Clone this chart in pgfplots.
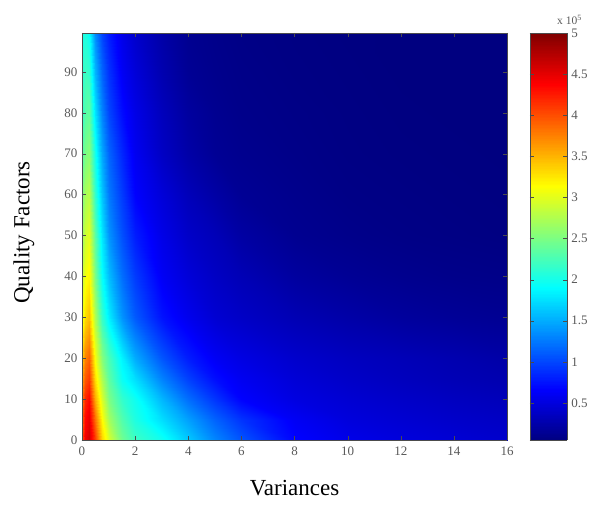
\documentclass[border=0pt]{standalone}
\usepackage{pgfplots}
\pgfplotsset{compat=1.18}
\usepackage{fontspec}
\setmainfont{Liberation Serif}
\begin{document}
\begin{tikzpicture}
\path[use as bounding box] (0,0) rectangle (593pt,505pt);
\begin{axis}[
  at={(82pt,65pt)}, anchor=south west,
  scale only axis, width=425pt, height=407pt,
  view={0}{90},
  xmin=0, xmax=16, ymin=0, ymax=99.5,
  xtick={0,2,...,16}, ytick={0,10,...,90},
  /pgf/number format/assume math mode=true,
  tick label style={font=\fontsize{13}{15}\selectfont, text=black!65},
  xticklabel style={yshift=-3.5pt},
  yticklabel style={xshift=-1pt},
  major tick length=4pt,
  tick style={black!70},
  axis line style={black!70, line width=0.6pt},
  xlabel={Variances}, ylabel={Quality Factors},
  label style={font=\fontsize{23}{26}\selectfont},
  xlabel style={at={(axis description cs:0.5,-0.118)}, anchor=center},
  ylabel style={at={(axis description cs:-0.137,0.51)}, anchor=center},
  colormap/jet,
  point meta min=0.05, point meta max=5,
  colorbar sampled,
  colorbar shift/.style={xshift=13pt},
  colorbar style={
    width=37pt,
    samples=300,
    ytick={0.5,1,...,5},
    /pgf/number format/assume math mode=true,
    yticklabel style={font=\fontsize{13}{15}\selectfont, text=black!65, xshift=1pt},
    ytick pos=both, yticklabel pos=right,
    major tick length=4pt,
    tick style={black!70},
    axis line style={black!70, line width=0.6pt},
  },
]
\addplot3[surf, shader=interp, mesh/rows=13, mesh/cols=17] coordinates {
(0,0,4.0) (0.1,0,4.45) (0.25,0,4.6) (0.5,0,4.1) (0.75,0,3.35) (1,0,2.95) (1.5,0,2.45) (2,0,2.2) (3,0,1.98) (4,0,1.65) (5,0,1.32) (6,0,1.08) (8,0,0.68) (10,0,0.56) (12,0,0.5) (14,0,0.46) (16,0,0.42)
(0,5,3.9) (0.1,5,4.35) (0.25,5,4.5) (0.5,5,3.85) (0.75,5,3.15) (1,5,2.7) (1.5,5,2.3) (2,5,2.05) (3,5,1.75) (4,5,1.45) (5,5,1.15) (6,5,0.92) (8,5,0.62) (10,5,0.5) (12,5,0.45) (14,5,0.41) (16,5,0.38)
(0,10,3.8) (0.1,10,4.2) (0.25,10,4.35) (0.5,10,3.55) (0.75,10,2.95) (1,10,2.5) (1.5,10,2.15) (2,10,1.97) (3,10,1.55) (4,10,1.2) (5,10,0.92) (6,10,0.67) (8,10,0.52) (10,10,0.45) (12,10,0.4) (14,10,0.36) (16,10,0.33)
(0,15,3.6) (0.1,15,3.95) (0.25,15,4.1) (0.5,15,3.3) (0.75,15,2.75) (1,15,2.35) (1.5,15,1.95) (2,15,1.75) (3,15,1.3) (4,15,0.98) (5,15,0.73) (6,15,0.6) (8,15,0.47) (10,15,0.4) (12,15,0.35) (14,15,0.31) (16,15,0.28)
(0,20,3.4) (0.1,20,3.75) (0.25,20,3.9) (0.5,20,3.1) (0.75,20,2.55) (1,20,2.25) (1.5,20,1.85) (2,20,1.5) (3,20,1.08) (4,20,0.8) (5,20,0.62) (6,20,0.53) (8,20,0.42) (10,20,0.36) (12,20,0.32) (14,20,0.28) (16,20,0.24)
(0,30,3.0) (0.1,30,3.3) (0.25,30,3.45) (0.5,30,2.75) (0.75,30,2.15) (1,30,1.82) (1.5,30,1.38) (2,30,1.1) (3,30,0.75) (4,30,0.58) (5,30,0.45) (6,30,0.39) (8,30,0.3) (10,30,0.24) (12,30,0.19) (14,30,0.16) (16,30,0.14)
(0,40,2.85) (0.1,40,3.08) (0.25,40,3.18) (0.5,40,2.5) (0.75,40,1.92) (1,40,1.58) (1.5,40,1.2) (2,40,0.95) (3,40,0.62) (4,40,0.48) (5,40,0.38) (6,40,0.31) (8,40,0.2) (10,40,0.15) (12,40,0.12) (14,40,0.1) (16,40,0.09)
(0,50,2.65) (0.1,50,2.9) (0.25,50,3.0) (0.5,50,2.35) (0.75,50,1.78) (1,50,1.38) (1.5,50,1.05) (2,50,0.8) (3,50,0.55) (4,50,0.4) (5,50,0.32) (6,50,0.22) (8,50,0.13) (10,50,0.1) (12,50,0.08) (14,50,0.07) (16,50,0.06)
(0,60,2.5) (0.1,60,2.72) (0.25,60,2.8) (0.5,60,2.15) (0.75,60,1.62) (1,60,1.25) (1.5,60,0.95) (2,60,0.67) (3,60,0.48) (4,60,0.33) (5,60,0.23) (6,60,0.15) (8,60,0.11) (10,60,0.08) (12,60,0.07) (14,60,0.06) (16,60,0.055)
(0,70,2.3) (0.1,70,2.5) (0.25,70,2.58) (0.5,70,2.0) (0.75,70,1.48) (1,70,1.15) (1.5,70,0.85) (2,70,0.6) (3,70,0.38) (4,70,0.24) (5,70,0.15) (6,70,0.12) (8,70,0.09) (10,70,0.07) (12,70,0.06) (14,70,0.055) (16,70,0.05)
(0,80,2.15) (0.1,80,2.32) (0.25,80,2.38) (0.5,80,1.78) (0.75,80,1.3) (1,80,1.0) (1.5,80,0.72) (2,80,0.55) (3,80,0.34) (4,80,0.2) (5,80,0.13) (6,80,0.1) (8,80,0.08) (10,80,0.065) (12,80,0.055) (14,80,0.05) (16,80,0.05)
(0,90,2.1) (0.1,90,2.2) (0.25,90,2.15) (0.5,90,1.55) (0.75,90,1.15) (1,90,0.9) (1.5,90,0.62) (2,90,0.48) (3,90,0.28) (4,90,0.15) (5,90,0.11) (6,90,0.09) (8,90,0.07) (10,90,0.06) (12,90,0.05) (14,90,0.05) (16,90,0.05)
(0,99.5,2.0) (0.1,99.5,2.05) (0.25,99.5,1.95) (0.5,99.5,1.35) (0.75,99.5,1.0) (1,99.5,0.8) (1.5,99.5,0.56) (2,99.5,0.42) (3,99.5,0.24) (4,99.5,0.13) (5,99.5,0.1) (6,99.5,0.08) (8,99.5,0.065) (10,99.5,0.055) (12,99.5,0.05) (14,99.5,0.05) (16,99.5,0.05)
};
\end{axis}
\node[anchor=west, inner sep=0pt, font=\fontsize{11.5}{13}\selectfont, text=black!65] at (557pt,485pt) {x 10\textsuperscript{5}};
\end{tikzpicture}
\end{document}
